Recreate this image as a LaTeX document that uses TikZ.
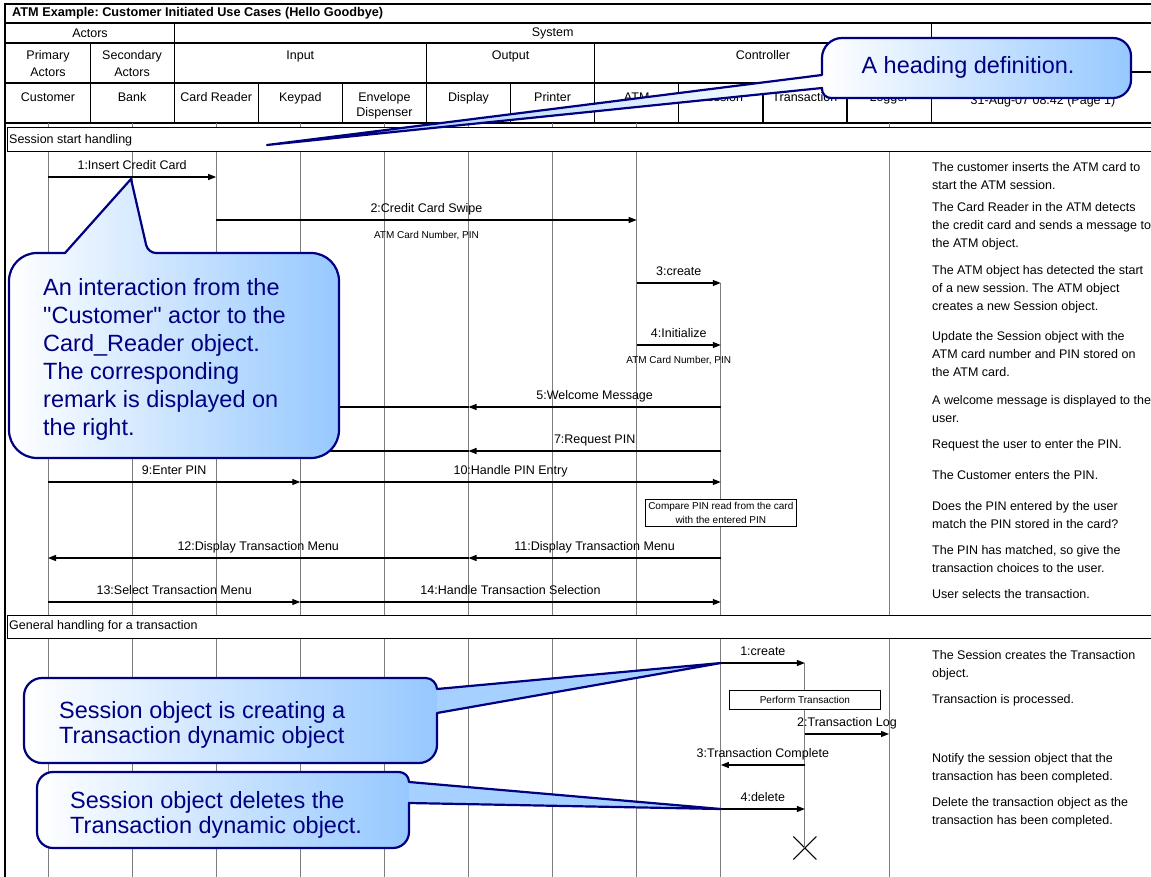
\documentclass[tikz,border=0pt]{standalone}
\usepackage{fontspec}
\setmainfont{Liberation Sans}[Ligatures=TeXOff]
\usetikzlibrary{arrows.meta,shapes.misc,positioning}
\definecolor{callblue}{RGB}{150,200,255}
\definecolor{callnavy}{RGB}{0,0,128}
\definecolor{lifegray}{RGB}{125,125,125}

\begin{document}
\frenchspacing
\begin{tikzpicture}[
    x=1pt, y=-1pt,
    cell/.style={line width=1.2pt},
    hdr/.style={font=\fontsize{12.5}{17}\selectfont, align=center, anchor=north, inner sep=0pt},
    colname/.style={hdr, font=\fontsize{12.5}{15}\selectfont},
    lifeline/.style={lifegray, line width=0.9pt},
    msg/.style={-{Triangle[length=8pt,width=6pt]}, line width=1.1pt},
    msglabel/.style={font=\fontsize{12.5}{15}\selectfont, inner sep=0pt, text height=9.1pt, text depth=2.6pt, above=3.9pt},
    sublabel/.style={font=\fontsize{10}{12}\selectfont, inner sep=0pt, text height=7.3pt, text depth=2.1pt, below=10.8pt},
    remark/.style={font=\fontsize{12.5}{17.8}\selectfont, align=left, anchor=north west, inner sep=0pt},
    sectbox/.style={draw, line width=1pt, fill=white},
    secttext/.style={font=\fontsize{12.5}{15}\selectfont, anchor=west, inner sep=0pt},
    notebox/.style={draw, fill=white, line width=1pt, font=\fontsize{10}{14}\selectfont, align=center, inner xsep=3pt, inner ysep=3pt},
    callout/.style={draw=callnavy, line width=2.2pt, line join=round},
    calltext/.style={callnavy, font=\fontsize{23.5}{28}\selectfont, align=left, anchor=north west, inner sep=0pt}
]
\useasboundingbox (0,0) rectangle (1151,877);

% Heading table
\draw[line width=2.5pt] (5,877) -- (5,4) -- (1151,4);
\draw[cell] (5,23) -- (1151,23);
\draw[cell] (5,43) -- (931.1,43);
\draw[cell] (5,83) -- (931.1,83);
\draw[cell] (931.1,72) -- (1151,72);
\draw[cell] (5,123) -- (1151,123);
\draw[cell] (174.2,23) -- (174.2,123);
\draw[cell] (931.1,23) -- (931.1,123);
\foreach \x in {90.1,426.5,594.7}
    \draw[cell] (\x,43) -- (\x,123);
\foreach \x in {258.3,342.4,510.6,678.8,762.9,847}
    \draw[cell] (\x,83) -- (\x,123);

\node[font=\bfseries\fontsize{12.7}{14}\selectfont, anchor=west, inner sep=0pt] (title) at (12,13) {ATM Example: Customer Initiated Use Cases (Hello Goodbye)};
\node[hdr, anchor=center] (actors) at (90,33) {Actors};
\node[hdr, anchor=center] (system) at (552.6,33) {System};

\node[hdr] (prim) at (48,50.4) {Primary\\Actors};
\node[hdr] (second) at (132.1,50.4) {Secondary\\Actors};
\node[hdr] (input) at (300.3,50.4) {Input};
\node[hdr] (output) at (510.6,50.4) {Output};
\node[hdr] (ctrl) at (762.9,50.4) {Controller};

\node[colname] (cust) at (48,92.4) {Customer};
\node[colname] (bank) at (132.1,92.4) {Bank};
\node[colname] (crd) at (216.2,92.4) {Card Reader};
\node[colname] (key) at (300.3,92.4) {Keypad};
\node[colname] (env) at (384.4,92.4) {Envelope\\Dispenser};
\node[colname] (disp) at (468.5,92.4) {Display};
\node[colname] (prn) at (552.6,92.4) {Printer};
\node[colname] (atm) at (636.7,92.4) {ATM};
\node[colname] (sess) at (720.8,92.4) {Session};
\node[colname] (trx) at (804.9,92.4) {Transaction};
\node[colname] (log) at (889,92.4) {Logger};
\node[colname] (date) at (1043,95.4) {31-Aug-07 08:42 (Page 1)};

% Message rows
\coordinate (m1) at (0,177);
\coordinate (m2) at (0,220);
\coordinate (m3) at (0,283);
\coordinate (m4) at (0,345);
\coordinate (m5) at (0,407);
\coordinate (m7) at (0,451);
\coordinate (m9) at (0,482);
\coordinate (m11) at (0,558);
\coordinate (m13) at (0,602);
\coordinate (t1) at (0,663);
\coordinate (t2) at (0,734);
\coordinate (t3) at (0,765);
\coordinate (t4) at (0,809);

% Lifelines
\foreach \n in {cust,bank,crd,key,env,disp,prn,atm,log}
    \draw[lifeline] (\n |- 0,123) -- (\n |- 0,877);
\draw[lifeline] (sess |- m3) -- (sess |- 0,877);
\node[draw, cross out, minimum size=22pt, inner sep=0pt, line width=1pt] (trxend) at (804.9,848) {};
\draw[lifeline] (trx |- t1) -- (trxend.center);

% Sections
\draw[sectbox] (7,128) rectangle (1160,152);
\node[secttext] (sec1) at (9,140) {Session start handling};
\draw[sectbox] (7,615) rectangle (1160,638);
\node[secttext] (sec2) at (9,626.5) {General handling for a transaction};

% Session start handling
\draw[msg] (cust |- m1) -- node[msglabel] {1:Insert Credit Card} (crd |- m1);
\draw[msg] (crd |- m2) -- node[msglabel] {2:Credit Card Swipe} node[sublabel] {ATM Card Number, PIN} (atm |- m2);
\draw[msg] (atm |- m3) -- node[msglabel] {3:create} (sess |- m3);
\draw[msg] (atm |- m4) -- node[msglabel] {4:Initialize} node[sublabel] {ATM Card Number, PIN} (sess |- m4);
\draw[msg] (sess |- m5) -- node[msglabel] {5:Welcome Message} (disp |- m5);
\draw[msg] (disp |- m5) -- (cust |- m5);
\draw[msg] (sess |- m7) -- node[msglabel] {7:Request PIN} (disp |- m7);
\draw[msg] (disp |- m7) -- node[msglabel, xshift=8pt] {8:Request PIN (Display)} (cust |- m7);
\draw[msg] (cust |- m9) -- node[msglabel] {9:Enter PIN} (key |- m9);
\draw[msg] (key |- m9) -- node[msglabel] {10:Handle PIN Entry} (sess |- m9);
\node[notebox] (cmp) at (720.8,513) {Compare PIN read from the card\\with the entered PIN};
\draw[msg] (sess |- m11) -- node[msglabel] {11:Display Transaction Menu} (disp |- m11);
\draw[msg] (disp |- m11) -- node[msglabel] {12:Display Transaction Menu} (cust |- m11);
\draw[msg] (cust |- m13) -- node[msglabel] {13:Select Transaction Menu} (key |- m13);
\draw[msg] (key |- m13) -- node[msglabel] {14:Handle Transaction Selection} (sess |- m13);

% General handling for a transaction
\draw[msg] (sess |- t1) -- node[msglabel] {1:create} (trx |- t1);
\node[notebox, minimum width=151pt, minimum height=19pt, inner ysep=0pt] (perf) at (804.9,699.5) {Perform Transaction};
\draw[msg] (trx |- t2) -- node[msglabel] {2:Transaction Log} (log |- t2);
\draw[msg] (trx |- t3) -- node[msglabel] {3:Transaction Complete} (sess |- t3);
\draw[msg] (sess |- t4) -- node[msglabel] {4:delete} (trx |- t4);

% Remarks
\node[remark] (rem1) at (932,162.4) {The customer inserts the ATM card to\\start the ATM session.};
\node[remark] (rem2) at (932,202.4) {The Card Reader in the ATM detects\\the credit card and sends a message to\\the ATM object.};
\node[remark] (rem3) at (932,265.4) {The ATM object has detected the start\\of a new session. The ATM object\\creates a new Session object.};
\node[remark] (rem4) at (932,331.4) {Update the Session object with the\\ATM card number and PIN stored on\\the ATM card.};
\node[remark] (rem5) at (932,395.4) {A welcome message is displayed to the\\user.};
\node[remark] (rem6) at (932,439.4) {Request the user to enter the PIN.};
\node[remark] (rem7) at (932,470.4) {The Customer enters the PIN.};
\node[remark] (rem8) at (932,501.4) {Does the PIN entered by the user\\match the PIN stored in the card?};
\node[remark] (rem9) at (932,545.4) {The PIN has matched, so give the\\transaction choices to the user.};
\node[remark] (rem10) at (932,589.4) {User selects the transaction.};
\node[remark] (rem11) at (932,650.4) {The Session creates the Transaction\\object.};
\node[remark] (rem12) at (932,694.4) {Transaction is processed.};
\node[remark] (rem13) at (932,753.4) {Notify the session object that the\\transaction has been completed.};
\node[remark] (rem14) at (932,797.4) {Delete the transaction object as the\\transaction has been completed.};

% Callouts (outline = box with round corners + pointer)
\def\pathA{(65,253) -- (37,253) .. controls (21.5,253) and (9,265.5) .. (9,281)
    -- (9,430) .. controls (9,445.5) and (21.5,458) .. (37,458)
    -- (311,458) .. controls (326.5,458) and (339,445.5) .. (339,430)
    -- (339,281) .. controls (339,265.5) and (326.5,253) .. (311,253)
    -- (156,253) .. controls (151.6,253) and (147.2,249.5) .. (146.2,245.2)
    -- (131,179) -- cycle}
\def\pathB{(230,763) -- (42,763) .. controls (32.1,763) and (24,754.9) .. (24,745)
    -- (24,696) .. controls (24,686.1) and (32.1,678) .. (42,678)
    -- (426,678) .. controls (432.1,678) and (437,683.9) .. (437,689)
    -- (721,663) -- (437,713)
    -- (437,745) .. controls (437,754.9) and (428.9,763) .. (419,763) -- cycle}
\def\pathC{(220,848) -- (53,848) .. controls (44.2,848) and (37,840.8) .. (37,832)
    -- (37,788) .. controls (37,779.2) and (44.2,772) .. (53,772)
    -- (399,772) .. controls (404.5,772) and (409,776.5) .. (409,782)
    -- (721,809) -- (409,803)
    -- (409,832) .. controls (409,840.8) and (401.8,848) .. (393,848) -- cycle}
\def\pathD{(1000,38) -- (842,38) .. controls (831,38) and (822,47) .. (822,58)
    -- (822,75) -- (267,145) -- (822,88)
    -- (822,89) .. controls (822,94) and (826,98) .. (831,98)
    -- (1113,98) .. controls (1122.9,98) and (1131,89.9) .. (1131,80)
    -- (1131,56) .. controls (1131,46.1) and (1122.9,38) .. (1113,38) -- cycle}

\begin{scope}
    \clip \pathA;
    \shade[left color=white, right color=callblue] (9,170) rectangle (339,458);
\end{scope}
\draw[callout] \pathA;
\node[calltext] (noteA) at (43,278.4) {An interaction from the\\"Customer" actor to the\\Card\_Reader object.\\The corresponding\\remark is displayed on\\the right.};

\begin{scope}
    \clip \pathB;
    \shade[left color=white, right color=callblue] (24,678) rectangle (437,763);
    \fill[callblue!85!white] (437,650) rectangle (730,730);
\end{scope}
\draw[callout] \pathB;
\node[calltext, font=\fontsize{23.5}{25}\selectfont] (noteB) at (59,701.4) {Session object is creating a\\Transaction dynamic object};

\begin{scope}
    \clip \pathC;
    \shade[left color=white, right color=callblue] (37,772) rectangle (409,848);
    \fill[callblue!85!white] (409,770) rectangle (730,820);
\end{scope}
\draw[callout] \pathC;
\node[calltext, font=\fontsize{23.5}{25}\selectfont] (noteC) at (70,791.4) {Session object deletes the\\Transaction dynamic object.};

\begin{scope}
    \clip \pathD;
    \shade[left color=callblue, right color=white] (260,60) rectangle (822,150);
    \shade[left color=white, right color=callblue] (822,38) rectangle (1131,98);
\end{scope}
\draw[callout] \pathD;
\node[calltext, anchor=north] (noteD) at (968,56.4) {A heading definition.};

\end{tikzpicture}
\end{document}
